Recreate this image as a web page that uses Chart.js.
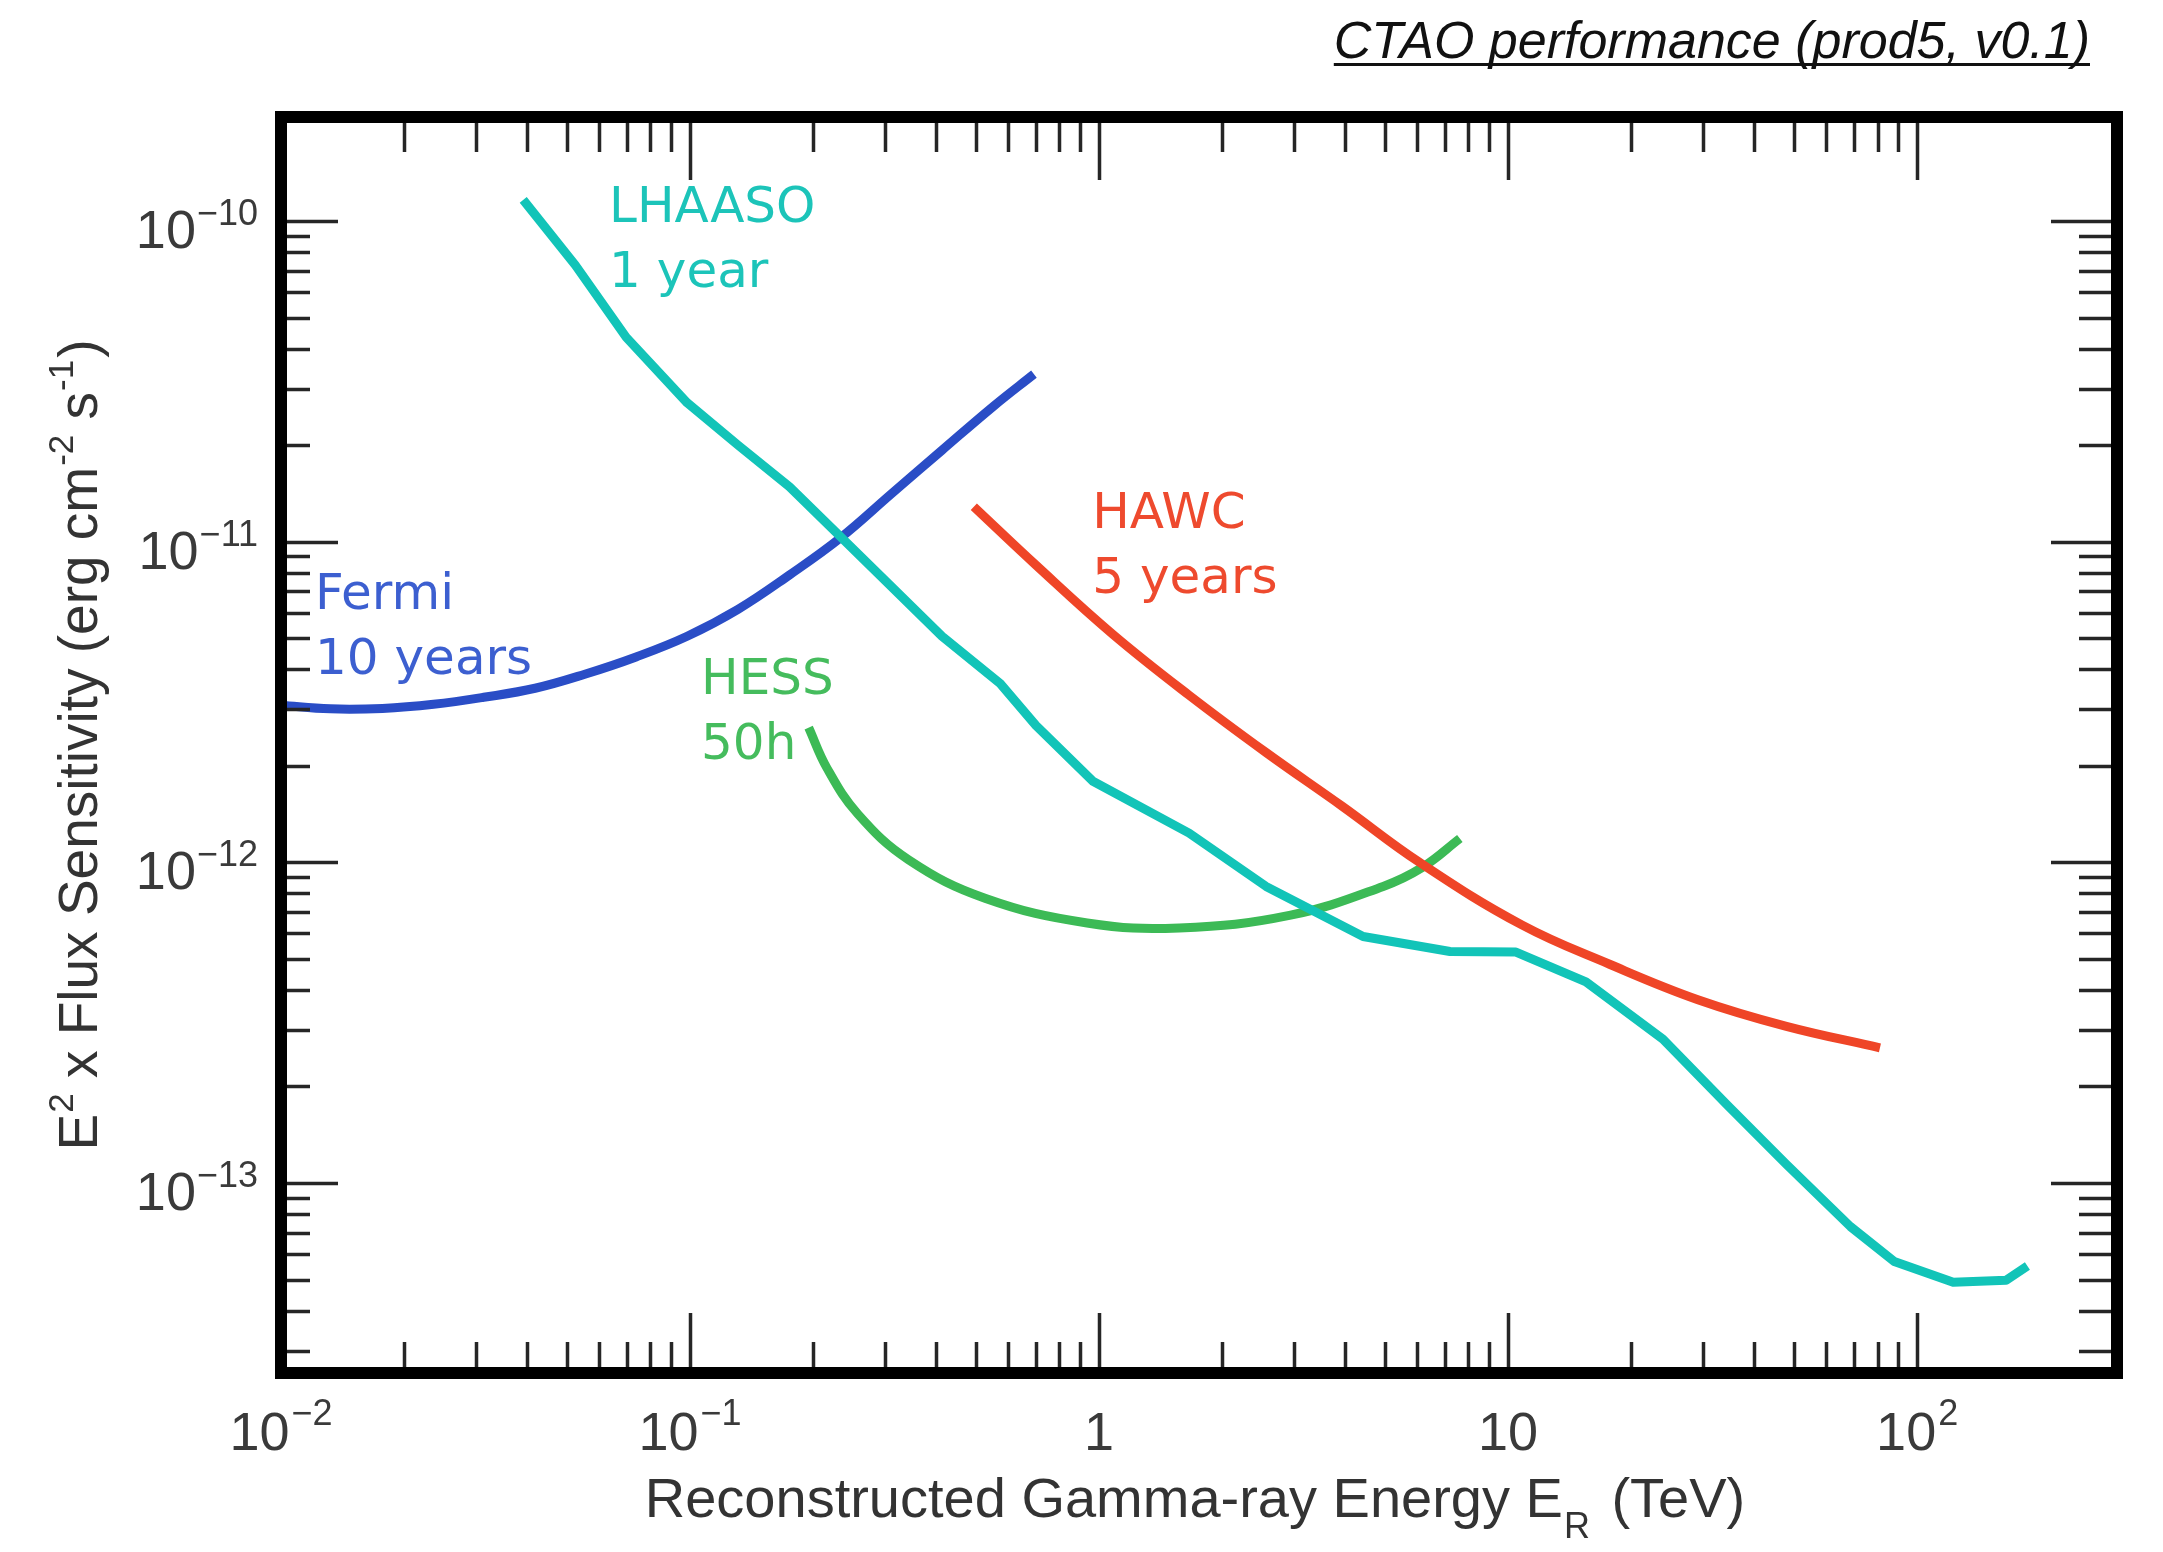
<!DOCTYPE html>
<html>
<head>
<meta charset="utf-8">
<script src="https://cdn.jsdelivr.net/npm/chart.js@4.4.1/dist/chart.umd.min.js"></script>
<style>
html,body{margin:0;padding:0;background:#fff;}
canvas{display:block;}
</style>
</head>
<body>
<canvas id="c" width="2163" height="1552"></canvas>
<script>
// ---------------- data (energy in TeV, E^2 x flux sensitivity in erg cm^-2 s^-1) ----------------
const lhaasoE = [0.0391, 0.0524, 0.0698, 0.0984, 0.131, 0.175, 0.233, 0.310, 0.413, 0.573, 0.701, 0.966, 1.66, 2.56, 4.42, 7.21, 10.45, 15.5, 23.9, 34.4, 47.9, 68.7, 87.9, 122.5, 165, 186];
const lhaasoF = [1.164e-10, 7.29e-11, 4.34e-11, 2.71e-11, 2.00e-11, 1.483e-11, 1.038e-11, 7.26e-12, 5.07e-12, 3.61e-12, 2.67e-12, 1.79e-12, 1.233e-12, 8.41e-13, 5.87e-13, 5.27e-13, 5.25e-13, 4.24e-13, 2.81e-13, 1.746e-13, 1.143e-13, 7.31e-14, 5.69e-14, 4.90e-14, 4.97e-14, 5.51e-14];

const fermiE = [0.0100, 0.0132, 0.0177, 0.0236, 0.0313, 0.0418, 0.0553, 0.0738, 0.0984, 0.131, 0.175, 0.233, 0.310, 0.413, 0.553, 0.693];
const fermiF = [3.09e-12, 3.01e-12, 3.02e-12, 3.11e-12, 3.27e-12, 3.49e-12, 3.86e-12, 4.37e-12, 5.07e-12, 6.15e-12, 7.87e-12, 1.026e-11, 1.406e-11, 1.928e-11, 2.65e-11, 3.33e-11];

const hawcE = [0.494, 0.701, 1.079, 1.66, 2.56, 3.93, 6.07, 10.8, 17.7, 29.1, 47.9, 81.1];
const hawcF = [1.285e-11, 8.45e-12, 5.15e-12, 3.32e-12, 2.20e-12, 1.496e-12, 1.0e-12, 6.38e-13, 4.81e-13, 3.73e-13, 3.08e-13, 2.64e-13];

const hessE = [0.195, 0.216, 0.257, 0.342, 0.526, 0.935, 1.57, 2.94, 4.95, 6.17, 7.62];
const hessF = [2.63e-12, 1.97e-12, 1.416e-12, 1.019e-12, 7.73e-13, 6.47e-13, 6.24e-13, 6.84e-13, 8.41e-13, 9.64e-13, 1.186e-12];

// series names and notes (label anchor in data coordinates)
const seriesNames = ['LHAASO', 'Fermi', 'HESS', 'HAWC'];
const seriesNotes = ['1 year', '10 years', '50h', '5 years'];
const labelAnchorE = [0.0634, 0.01211, 0.1064, 0.962];
const labelAnchorF = [9.93e-11, 6.17e-12, 3.35e-12, 1.104e-11];

// axes
const xRange = [0.01, 308];
const yRange = [2.555e-14, 2.11e-10];
const xMajorTicks = [0.01, 0.1, 1, 10, 100];
const xTickLabels = [['10', '\u22122'], ['10', '\u22121'], ['1', ''], ['10', ''], ['10', '2']];
const yMajorTicks = [1e-13, 1e-12, 1e-11, 1e-10];
const yTickLabels = [['10', '\u221213'], ['10', '\u221212'], ['10', '\u221211'], ['10', '\u221210']];
const minorSteps = [2, 3, 4, 5, 6, 7, 8, 9];

const titleText = 'CTAO performance (prod5, v0.1)';

// ---------------- styles ----------------
const COLORS = { lhaaso: '#12C4B8', fermi: '#2A4DC6', hawc: '#EF4527', hess: '#3CBA56' };
const TEXT_COLORS = ['#1CC4B9', '#3C5FD0', '#45BC5D', '#EE4A2E'];
const PAD = { left: 281, top: 117, right: 46, bottom: 179 };
const TICKFONT = '"Liberation Sans", Arial, sans-serif';

function pts(E, F) { return E.map((e, i) => ({ x: e, y: F[i] })); }
function ds(label, E, F, color, smooth) {
  return {
    label, data: pts(E, F), borderColor: color, backgroundColor: color,
    borderWidth: 9, pointRadius: 0, fill: false,
    borderCapStyle: 'butt', borderJoinStyle: 'round',
    tension: smooth ? 0.4 : 0, cubicInterpolationMode: 'default'
  };
}

function drawRuns(ctx, runs, x, y, align) {
  let total = 0;
  runs.forEach(r => { ctx.font = r.font; r.w = ctx.measureText(r.t).width; total += r.w + (r.gap || 0); });
  let cx = align === 'center' ? x - total / 2 : align === 'right' ? x - total : x;
  ctx.textAlign = 'left';
  ctx.textBaseline = 'alphabetic';
  runs.forEach(r => { ctx.font = r.font; cx += (r.gap || 0); ctx.fillText(r.t, cx, y + (r.dy || 0)); cx += r.w; });
  return total;
}

const deco = {
  id: 'deco',
  beforeDraw(chart) {
    const c = chart.ctx;
    c.save(); c.fillStyle = '#fff'; c.fillRect(0, 0, chart.width, chart.height); c.restore();
  },
  afterDraw(chart) {
    const ctx = chart.ctx;
    const a = chart.chartArea;
    const xs = chart.scales.x, ys = chart.scales.y;
    const bw = 12;
    ctx.save();

    // ticks (inward)
    ctx.strokeStyle = '#262626';
    ctx.lineWidth = 3.5;
    ctx.lineCap = 'butt';
    const inT = a.top + bw / 2, inB = a.bottom - bw / 2, inL = a.left + bw / 2, inR = a.right - bw / 2;
    function xtick(v, major) {
      const px = Math.round(xs.getPixelForValue(v)) + 0.5;
      if (px < inL + 4 || px > inR - 4) return;
      ctx.beginPath();
      ctx.moveTo(px, inB); ctx.lineTo(px, inB - (major ? 54 : 25));
      ctx.moveTo(px, inT); ctx.lineTo(px, inT + (major ? 57 : 29));
      ctx.stroke();
    }
    function ytick(v, major) {
      const py = Math.round(ys.getPixelForValue(v)) + 0.5;
      if (py < inT + 4 || py > inB - 4) return;
      ctx.beginPath();
      ctx.moveTo(inL, py); ctx.lineTo(inL + (major ? 51 : 23), py);
      ctx.moveTo(inR, py); ctx.lineTo(inR - (major ? 60 : 32), py);
      ctx.stroke();
    }
    xMajorTicks.forEach(v => {
      xtick(v, true);
      if (v < 100) minorSteps.forEach(m => xtick(v * m, false));
    });
    yMajorTicks.forEach(v => ytick(v, true));
    [1e-14, 1e-13, 1e-12, 1e-11].forEach(v => minorSteps.forEach(m => {
      const t = v * m; if (t > yRange[0] && t < yRange[1]) ytick(t, false);
    }));

    // frame
    ctx.strokeStyle = '#000';
    ctx.lineWidth = bw;
    ctx.lineJoin = 'miter';
    ctx.strokeRect(a.left, a.top, a.right - a.left, a.bottom - a.top);

    // x tick labels
    ctx.fillStyle = '#3a3a3a';
    xMajorTicks.forEach((v, i) => {
      const px = xs.getPixelForValue(v);
      const [b, e] = xTickLabels[i];
      const runs = [{ t: b, font: '54px ' + TICKFONT }];
      if (e) runs.push({ t: e, font: '36px ' + TICKFONT, dy: -25, gap: 2 });
      drawRuns(ctx, runs, px, a.bottom + 77, 'center');
    });
    // y tick labels
    yMajorTicks.forEach((v, i) => {
      const py = ys.getPixelForValue(v);
      const [b, e] = yTickLabels[i];
      const runs = [{ t: b, font: '54px ' + TICKFONT }, { t: e, font: '36px ' + TICKFONT, dy: -23, gap: 1 }];
      drawRuns(ctx, runs, a.left - 23, py + 27, 'right');
    });

    // axis titles
    ctx.fillStyle = '#333';
    const TF = '"Liberation Sans", Arial, sans-serif';
    drawRuns(ctx, [
      { t: 'Reconstructed Gamma-ray Energy E', font: '56px ' + TF },
      { t: 'R', font: '36px ' + TF, dy: 21, gap: 1 },
      { t: ' (TeV)', font: '56px ' + TF, gap: 6 }
    ], 1195, 1517, 'center');

    ctx.save();
    ctx.translate(97, 745);
    ctx.rotate(-Math.PI / 2);
    drawRuns(ctx, [
      { t: 'E', font: '55px ' + TF },
      { t: '2', font: '35px ' + TF, dy: -24, gap: 1 },
      { t: ' x Flux Sensitivity (erg cm', font: '55px ' + TF },
      { t: '-2', font: '35px ' + TF, dy: -24, gap: 1 },
      { t: ' s', font: '55px ' + TF },
      { t: '-1', font: '35px ' + TF, dy: -24, gap: 1 },
      { t: ')', font: '55px ' + TF, gap: 2 }
    ], 0, 0, 'center');
    ctx.restore();

    // series labels
    ctx.textAlign = 'left';
    ctx.textBaseline = 'alphabetic';
    ctx.font = '50px "DejaVu Sans", Verdana, sans-serif';
    seriesNames.forEach((n, i) => {
      const px = xs.getPixelForValue(labelAnchorE[i]);
      const py = ys.getPixelForValue(labelAnchorF[i]);
      ctx.fillStyle = TEXT_COLORS[i];
      ctx.fillText(n, px, py);
      ctx.fillText(seriesNotes[i], px, py + 65);
    });

    // top-right title (italic, underlined)
    ctx.fillStyle = '#111';
    ctx.font = 'italic 52px ' + TF;
    ctx.textAlign = 'right';
    ctx.fillText(titleText, 2090, 58);
    const tw = ctx.measureText(titleText).width;
    ctx.strokeStyle = '#111';
    ctx.lineWidth = 3;
    ctx.beginPath(); ctx.moveTo(2090 - tw, 64.5); ctx.lineTo(2090, 64.5); ctx.stroke();

    ctx.restore();
  }
};

new Chart(document.getElementById('c'), {
  type: 'line',
  data: {
    datasets: [
      ds('LHAASO 1 year', lhaasoE, lhaasoF, COLORS.lhaaso, false),
      ds('Fermi 10 years', fermiE, fermiF, COLORS.fermi, true),
      ds('HAWC 5 years', hawcE, hawcF, COLORS.hawc, true),
      ds('HESS 50h', hessE, hessF, COLORS.hess, true)
    ]
  },
  options: {
    responsive: false,
    animation: false,
    devicePixelRatio: 1,
    layout: { padding: PAD },
    plugins: { legend: { display: false }, tooltip: { enabled: false }, title: { display: false } },
    scales: {
      x: { type: 'logarithmic', min: xRange[0], max: xRange[1], display: false },
      y: { type: 'logarithmic', min: yRange[0], max: yRange[1], display: false }
    }
  },
  plugins: [deco]
});
</script>
</body>
</html>
